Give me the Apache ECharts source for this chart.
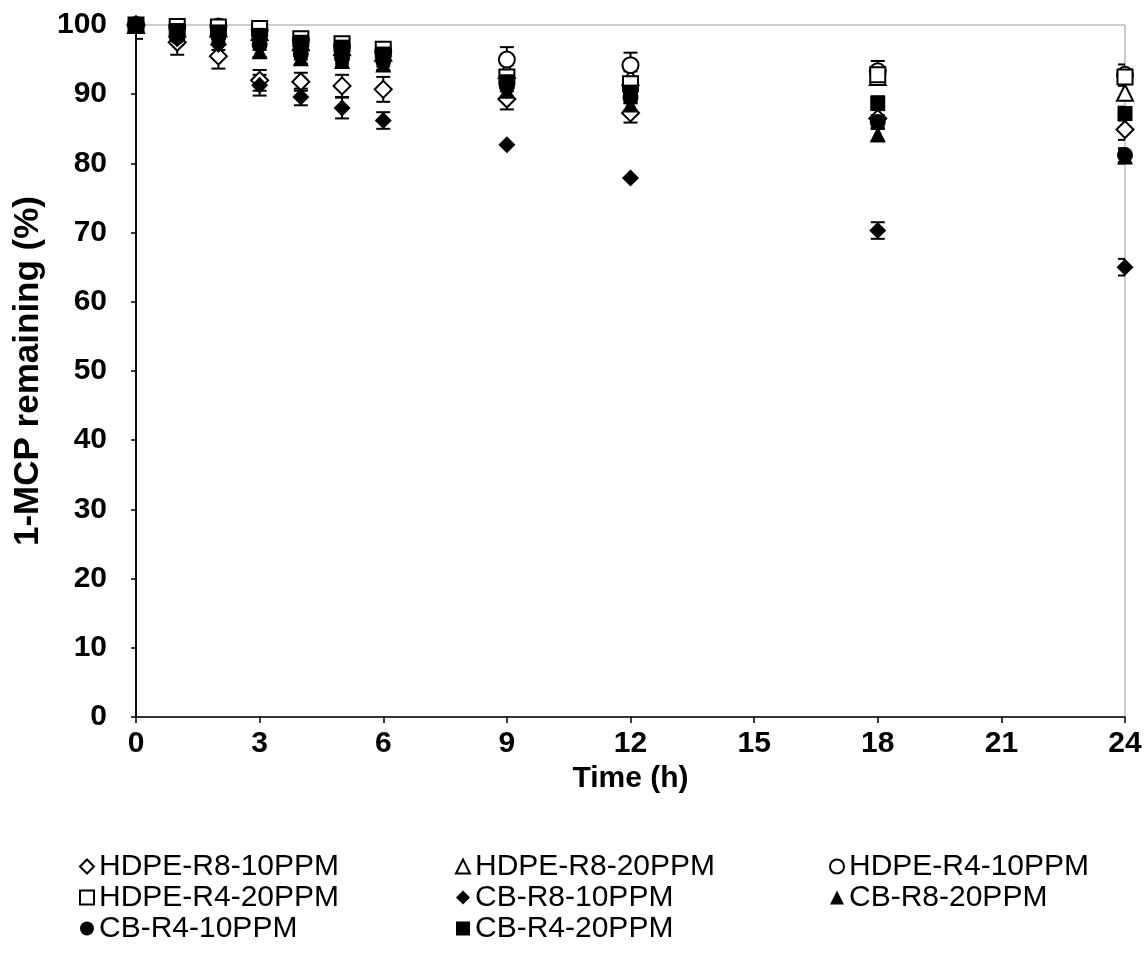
<!DOCTYPE html>
<html><head><meta charset="utf-8">
<script src="https://cdn.jsdelivr.net/npm/echarts@6/dist/echarts.min.js"></script>
<style>html,body{margin:0;padding:0;background:#fff}#c{width:1145px;height:956px}</style>
</head><body><div id="c"></div>
<script>
const times = [0, 1, 2, 3, 4, 5, 6, 9, 12, 18, 24];
const xTicks = [0, 3, 6, 9, 12, 15, 18, 21, 24];
const yTicks = [0, 10, 20, 30, 40, 50, 60, 70, 80, 90, 100];

const seriesNames = ['HDPE-R8-10PPM', 'HDPE-R8-20PPM', 'HDPE-R4-10PPM', 'HDPE-R4-20PPM',
  'CB-R8-10PPM', 'CB-R8-20PPM', 'CB-R4-10PPM', 'CB-R4-20PPM'];

const hdpeR8_10 = [100, 97.5, 95.5, 92.0, 91.8, 91.2, 90.7, 89.3, 87.3, 86.5, 84.9];
const hdpeR8_20 = [100, 99.5, 99.5, 99.0, 97.5, 96.8, 96.0, 93.5, 92.5, 92.5, 90.2];
const hdpeR4_10 = [100, 99.7, 99.8, 99.3, 97.8, 97.0, 96.2, 95.0, 94.2, 93.3, 92.8];
const hdpeR4_20 = [100, 99.8, 99.7, 99.5, 98.0, 97.3, 96.5, 92.5, 91.5, 92.8, 92.5];
const cbR8_10 = [100, 98.0, 97.2, 91.3, 89.6, 88.0, 86.2, 82.7, 77.9, 70.3, 65.0];
const cbR8_20 = [100, 98.7, 98.2, 96.2, 95.2, 94.8, 94.3, 90.5, 88.5, 84.2, 81.0];
const cbR4_10 = [100, 98.3, 98.5, 97.2, 95.8, 95.2, 94.8, 91.2, 89.5, 86.0, 81.2];
const cbR4_20 = [100, 99.2, 99.0, 98.5, 97.5, 96.8, 95.8, 91.8, 90.3, 88.7, 87.2];

const hdpeR8_10Err = [2.0, 1.8, 1.8, 1.5, 1.3, 1.6, 1.8, 1.5, 1.4, 1.5, 1.5];
const hdpeR8_20Err = [0.5, 0.5, 0.5, 0.5, 0.6, 0.6, 0.6, 0.8, 0.8, 1.0, 1.0];
const hdpeR4_10Err = [0.5, 0.5, 0.5, 0.5, 0.5, 0.5, 0.6, 1.8, 1.8, 1.5, 1.5];
const hdpeR4_20Err = [0.5, 0.5, 0.5, 0.5, 0.5, 0.5, 0.5, 0.8, 0.8, 1.0, 1.0];
const cbR8_10Err = [0.5, 0.8, 0.8, 1.5, 1.2, 1.5, 1.2, 0.0, 0.0, 1.2, 1.2];
const cbR8_20Err = [0.5, 0.6, 0.6, 0.8, 0.8, 0.8, 0.8, 0.8, 0.8, 1.0, 1.0];
const cbR4_10Err = [0.5, 0.6, 0.6, 0.8, 0.8, 0.8, 0.8, 0.8, 0.8, 1.0, 1.0];
const cbR4_20Err = [0.5, 0.5, 0.5, 0.6, 0.6, 0.6, 0.6, 0.8, 0.8, 1.0, 1.0];

const allValues = [hdpeR8_10, hdpeR8_20, hdpeR4_10, hdpeR4_20, cbR8_10, cbR8_20, cbR4_10, cbR4_20];
const allErrs = [hdpeR8_10Err, hdpeR8_20Err, hdpeR4_10Err, hdpeR4_20Err, cbR8_10Err, cbR8_20Err, cbR4_10Err, cbR4_20Err];
const symbols = ['diamond', 'triangle', 'circle', 'rect', 'diamond', 'triangle', 'circle', 'rect'];
const sizes = [17, 16, 16, 15, 17, 16, 16, 15];
const filled = [false, false, false, false, true, true, true, true];

const FONT = '"Liberation Sans", Arial, sans-serif';

const series = [];
allValues.forEach((vals, i) => {
  series.push({
    type: 'custom',
    name: 'err' + i,
    clip: true,
    silent: true,
    z: 1,
    data: times.map((t, k) => [t, vals[k] - allErrs[i][k], vals[k] + allErrs[i][k]]),
    renderItem: (params, api) => {
      const x = api.value(0);
      if (api.value(2) - api.value(1) <= 0) return null;
      const lo = api.coord([x, api.value(1)]);
      const hi = api.coord([x, api.value(2)]);
      const w = 7;
      const st = { stroke: '#000', lineWidth: 2 };
      return {
        type: 'group',
        children: [
          { type: 'line', shape: { x1: lo[0], y1: lo[1], x2: hi[0], y2: hi[1] }, style: st },
          { type: 'line', shape: { x1: lo[0] - w, y1: lo[1], x2: lo[0] + w, y2: lo[1] }, style: st },
          { type: 'line', shape: { x1: hi[0] - w, y1: hi[1], x2: hi[0] + w, y2: hi[1] }, style: st }
        ]
      };
    }
  });
});
allValues.forEach((vals, i) => {
  series.push({
    type: 'scatter',
    name: seriesNames[i],
    symbol: symbols[i],
    symbolSize: sizes[i],
    z: 3,
    data: times.map((t, k) => [t, vals[k]]),
    itemStyle: filled[i]
      ? { color: '#000', borderColor: '#000', borderWidth: 0, opacity: 1 }
      : { color: '#fff', borderColor: '#000', borderWidth: 2, opacity: 1 }
  });
});

const legendCommon = {
  orient: 'vertical',
  top: 851,
  itemWidth: 14,
  itemHeight: 14,
  itemGap: 0,
  padding: 0,
  selectedMode: false,
  textStyle: { fontFamily: FONT, fontSize: 30, color: '#000', lineHeight: 31 }
};

const option = {
  backgroundColor: '#fff',
  animation: false,
  grid: { left: 136, right: 20, top: 25, bottom: 239, show: true, borderColor: '#999', borderWidth: 1 },
  legend: [
    Object.assign({}, legendCommon, { left: 79, data: [seriesNames[0], seriesNames[3], seriesNames[6]] }),
    Object.assign({}, legendCommon, { left: 455, data: [seriesNames[1], seriesNames[4], seriesNames[7]] }),
    Object.assign({}, legendCommon, { left: 829, data: [seriesNames[2], seriesNames[5]] })
  ],
  xAxis: {
    type: 'value', min: 0, max: 24, interval: 3,
    name: 'Time (h)', nameLocation: 'middle', nameGap: 44,
    nameTextStyle: { fontFamily: FONT, fontSize: 30, fontWeight: 'bold', color: '#000' },
    axisLine: { show: true, onZero: false, lineStyle: { color: '#000', width: 1.5 } },
    axisTick: { show: true, inside: false, length: 6, lineStyle: { color: '#000', width: 1.5 } },
    axisLabel: { fontFamily: FONT, fontSize: 30, fontWeight: 'bold', color: '#000', margin: 12,
      formatter: v => xTicks.includes(v) ? String(v) : '' },
    splitLine: { show: false }
  },
  yAxis: [{
    type: 'value', min: 0, max: 100, interval: 10,
    name: '1-MCP remaining (%)', nameLocation: 'middle', nameGap: 90, nameRotate: 90,
    nameTextStyle: { fontFamily: FONT, fontSize: 35, fontWeight: 'bold', color: '#000' },
    axisLine: { show: true, onZero: false, lineStyle: { color: '#000', width: 1.5 } },
    axisTick: { show: true, inside: false, length: 5, lineStyle: { color: '#000', width: 1.5 } },
    axisLabel: { fontFamily: FONT, fontSize: 30, fontWeight: 'bold', color: '#000', margin: 29,
      formatter: v => yTicks.includes(v) ? String(v) : '' },
    splitLine: { show: false }
  }, {
    type: 'value', min: 0, max: 100, interval: 10, position: 'right',
    axisLine: { show: true, lineStyle: { color: '#000', width: 1.5 } },
    axisTick: { show: false }, axisLabel: { show: false }, splitLine: { show: false }
  }],
  series: series
};

const chart = echarts.init(document.getElementById('c'), null, { renderer: 'canvas' });
chart.setOption(option);
</script>
</body></html>
